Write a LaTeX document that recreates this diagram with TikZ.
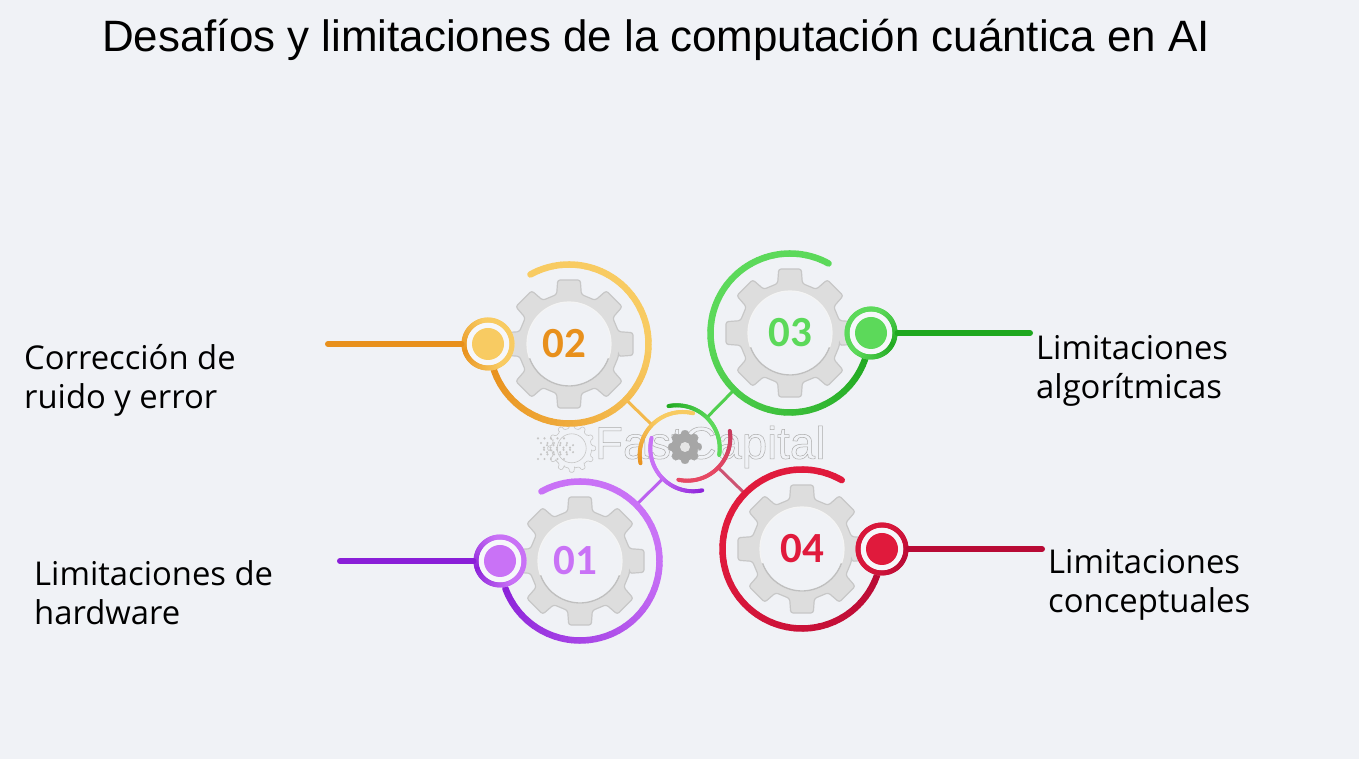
\documentclass[tikz,border=0pt]{standalone}
\usepackage{fontspec}
\setmainfont{Open Sans}
\newfontfamily\titlefont{Liberation Sans}
\newfontfamily\numfont{Carlito}

\definecolor{fondo}{HTML}{F0F2F6}
\definecolor{naranjaA}{HTML}{E8901C}
\definecolor{naranjaB}{HTML}{F8CB62}
\definecolor{verdeA}{HTML}{1FA81F}
\definecolor{verdeB}{HTML}{5CD95A}
\definecolor{moradoA}{HTML}{8A1FD8}
\definecolor{moradoB}{HTML}{C972F6}
\definecolor{rojoA}{HTML}{B80A35}
\definecolor{rojoB}{HTML}{E01A3C}

\tikzset{
  etiqueta/.style={anchor=west, align=left, inner sep=0pt, text=black, font=\fontsize{32.8}{39}\selectfont},
  numero/.style={font=\numfont\bfseries\fontsize{43}{43}\selectfont, inner sep=0pt},
  anillo/.style={circle, inner sep=0pt, outer sep=0pt, minimum size=160pt},
  arquito/.style={circle, inner sep=0pt, outer sep=0pt, minimum size=86pt},
  punto/.style={circle, inner sep=0pt, outer sep=0pt, minimum size=53pt, fill=fondo!60!white},
  nucleo/.style={circle, inner sep=0pt, outer sep=0pt, minimum size=32pt},
  guia/.style={line width=6pt, line cap=round},
  enlace/.style={line width=3pt},
  engrane/.style={fill=gray!27, draw=gray!44, line width=1.2pt}
}

% arco con degradado: centro, radio, desde, hasta, color A, color B, grosor
\newcommand{\gradarc}[7]{
  \foreach \i in {1,...,48} {
    \pgfmathsetmacro\angA{#3+(#4-#3)*(\i-1)/48}
    \pgfmathsetmacro\angB{#3+(#4-#3)*\i/48}
    \pgfmathsetmacro\mezcla{min(100,170*\i/48)}
    \draw[line width=#7, line cap=round, draw={#6!\mezcla!#5}] (#1) ++(\angA:#2)
      arc[start angle=\angA, end angle=\angB, radius=#2];
  }
}
% engrane de ocho dientes: centro, escala, estilo
\newcommand{\gearicon}[3]{
  \draw[#3, shift={(#1)}, scale=#2, rounded corners=2.5pt] (-14:51)
    \foreach \a in {0,45,...,315} { -- (\a-14:51) -- (\a-10:65) -- (\a+10:65) -- (\a+14:51) } -- cycle;
}
% disco interior del engrane: centro
\newcommand{\gearface}[1]{
  \fill[fondo] (#1) circle (42);
  \draw[white!70!gray!30, line width=1.2pt] (#1) circle (42);
  \draw[gray!50, line width=1.4pt] (#1) ++(200:42) arc[start angle=200, end angle=340, radius=42];
}

\begin{document}
\begin{tikzpicture}[x=1pt, y=1pt]
    \fill[fondo] (0,0) rectangle (1359,759);

    % Titulo
    \node[anchor=base west, inner sep=0pt, font=\titlefont\fontsize{43.9}{43.9}\selectfont] (titulo) at (102,707)
        {Desafíos y limitaciones de la computación cuántica en AI};

    % Marca de agua
    \foreach \i in {0,...,4} {
        \foreach \j in {0,...,3} {
            \fill[gray!45] ({538+\i*6.5+\j*3},{300+\j*4.6}) circle (1.2);
            \fill[gray!45] ({538+\i*6.5+\j*3},{320.6-\j*4.6}) circle (1.2);
        }
    }
    \draw[gray!45, line width=.6pt, rounded corners=1pt] (571.7,310.7) ++(-8:20)
        \foreach \a in {0,30,...,330} { -- ++(0,0) -- ({571.7+20*cos(\a-8)},{310.7+20*sin(\a-8)}) -- ({571.7+24*cos(\a-5)},{310.7+24*sin(\a-5)}) -- ({571.7+24*cos(\a+5)},{310.7+24*sin(\a+5)}) -- ({571.7+20*cos(\a+8)},{310.7+20*sin(\a+8)}) } -- cycle;
    \draw[gray!45, line width=.6pt] (571.7,310.7) circle (14.5);
    \node[anchor=west, inner sep=0pt, text=gray!65, font=\titlefont\fontsize{45.5}{45.5}\selectfont] (marca) at (595,312)
        {\special{pdf:code 1 Tr 0.5 w}FastCapital\special{pdf:code 0 Tr}};

    % Nodos: engranes y arcos centrales
    \node[anillo] (gear02) at (569,415) {};
    \node[anillo] (gear03) at (790,426) {};
    \node[anillo] (gear01) at (580,198) {};
    \node[anillo] (gear04) at (802,210) {};
    \node[arquito] (hub02) at (682.7,304) {};
    \node[arquito] (hub03) at (676.7,310.7) {};
    \node[arquito] (hub04) at (687.3,321.3) {};
    \node[arquito] (hub01) at (693.3,310.7) {};

    % Enlaces
    \draw[enlace, color=naranjaB!70!naranjaA] (gear02) -- (hub02);
    \draw[enlace, color=verdeB!80!verdeA] (gear03) -- (hub03);
    \draw[enlace, color=rojoA!70!white] (gear04) -- (hub04);
    \draw[enlace, color=moradoB!80!moradoA] (gear01) -- (hub01);

    % Centro
    \gearicon{685,312}{.26}{fill=gray!70, draw=gray!70}
    \fill[white!80!gray] (685,312) circle (5);
    \gradarc{hub02}{43}{191}{76}{naranjaA}{naranjaB}{4pt}
    \gradarc{hub03}{43}{101}{-9}{verdeA}{verdeB}{4pt}
    \gradarc{hub04}{43}{9}{-102}{rojoA!80!white}{rojoB}{4pt}
    \gradarc{hub01}{43}{282}{166}{moradoA}{moradoB}{4pt}

    % Engrane 02
    \gradarc{gear02}{79.5}{199}{479}{naranjaA}{naranjaB}{6.5pt}
    \gearicon{569,415}{1}{engrane}
    \gearface{569,415}
    \node[punto] (dot02) at (488,415) {};
    \gradarc{dot02}{24}{200}{20}{naranjaA}{naranjaB}{5pt}
    \gradarc{dot02}{24}{200}{380}{naranjaA}{naranjaB}{5pt}
    \node[nucleo, fill=naranjaB] (disc02) at (dot02) {};
    \coordinate (end02) at (328,415);
    \draw[guia, color=naranjaA] (dot02) -- (end02);
    \node[numero, text=naranjaA] (num02) at (564.5,415) {02};

    % Engrane 03
    \gradarc{gear03}{79.5}{-18}{-299}{verdeA}{verdeB}{6.5pt}
    \gearicon{790,426}{1}{engrane}
    \gearface{790,426}
    \node[punto] (dot03) at (871,426) {};
    \gradarc{dot03}{24}{-30}{150}{verdeA}{verdeB}{5pt}
    \gradarc{dot03}{24}{-30}{-210}{verdeA}{verdeB}{5pt}
    \node[nucleo, fill=verdeB] (disc03) at (dot03) {};
    \coordinate (end03) at (1030,426);
    \draw[guia, color=verdeA] (dot03) -- (end03);
    \node[numero, text=verdeB] (num03) at (gear03) {03};

    % Engrane 01
    \gradarc{gear01}{79.5}{200}{479}{moradoA}{moradoB}{6.5pt}
    \gearicon{580,198}{1}{engrane}
    \gearface{580,198}
    \node[punto] (dot01) at (500,198) {};
    \gradarc{dot01}{24}{200}{20}{moradoA}{moradoB}{5pt}
    \gradarc{dot01}{24}{200}{380}{moradoA}{moradoB}{5pt}
    \node[nucleo, fill=moradoB] (disc01) at (dot01) {};
    \coordinate (end01) at (340,198);
    \draw[guia, color=moradoA] (dot01) -- (end01);
    \node[numero, text=moradoB] (num01) at (575.5,198) {01};

    % Engrane 04
    \gradarc{gear04}{79.5}{-19}{-300}{rojoA}{rojoB}{6.5pt}
    \gearicon{802,210}{1}{engrane}
    \gearface{802,210}
    \node[punto] (dot04) at (882,210) {};
    \gradarc{dot04}{24}{-30}{150}{rojoA}{rojoB!80!rojoA}{5pt}
    \gradarc{dot04}{24}{-30}{-210}{rojoA}{rojoB!80!rojoA}{5pt}
    \node[nucleo, fill=rojoB] (disc04) at (dot04) {};
    \coordinate (end04) at (1042,210);
    \draw[guia, color=rojoA] (dot04) -- (end04);
    \node[numero, text=rojoB] (num04) at (gear04) {04};

    % Etiquetas
    \node[etiqueta] (tag02) at (24,379) {Corrección de\\ruido y error};
    \node[etiqueta] (tag03) at (1036,388) {Limitaciones\\algorítmicas};
    \node[etiqueta] (tag01) at (34,166) {Limitaciones de\\hardware};
    \node[etiqueta] (tag04) at (1048,174) {Limitaciones\\conceptuales};
\end{tikzpicture}
\end{document}
